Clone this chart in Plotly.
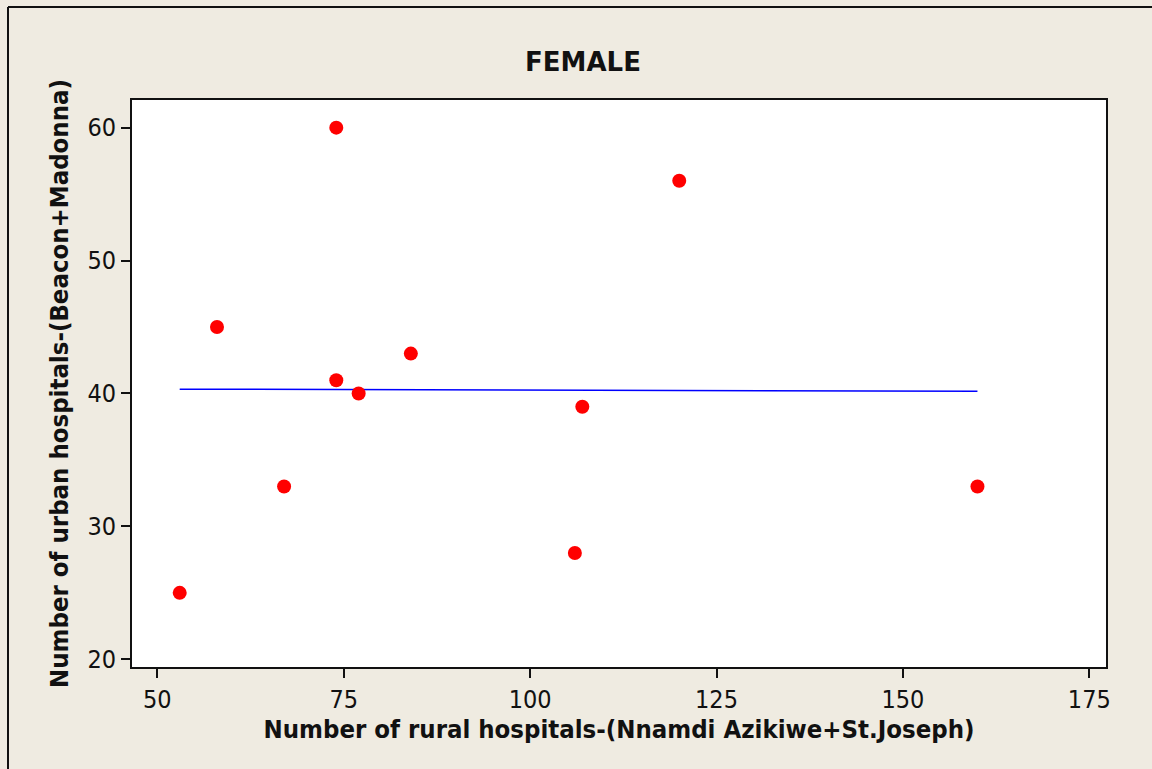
import numpy as np
import plotly.graph_objects as go

# Data
rural = [53, 58, 67, 74, 74, 77, 84, 106, 107, 120, 160]
urban = [25, 45, 33, 60, 41, 40, 43, 28, 39, 56, 33]
x_ticks = [50, 75, 100, 125, 150, 175]
y_ticks = [20, 30, 40, 50, 60]

title_text = "FEMALE"
x_title = "Number of rural hospitals-(Nnamdi Azikiwe+St.Joseph)"
y_title = "Number of urban hospitals-(Beacon+Madonna)"

# Least-squares fit line computed from the data
slope, intercept = np.polyfit(rural, urban, 1)
fit_x = [min(rural), max(rural)]
fit_y = [slope * v + intercept for v in fit_x]

BG = "#EFEBE1"
FONT = "DejaVu Sans Condensed, DejaVu Sans, sans-serif"
TFONT = "DejaVu Sans, sans-serif"

fig = go.Figure()
fig.add_trace(go.Scatter(x=fit_x, y=fit_y, mode="lines",
                         line=dict(color="#0000FF", width=1.5),
                         hoverinfo="skip", showlegend=False))
fig.add_trace(go.Scatter(x=rural, y=urban, mode="markers",
                         marker=dict(color="#FF0000", size=14, line=dict(width=0)),
                         showlegend=False))

axis_common = dict(showline=True, linecolor="#111111", linewidth=1.8, mirror=True,
                   ticks="outside", ticklen=9, tickwidth=1.5, tickcolor="#111111",
                   showgrid=False, zeroline=False,
                   tickfont=dict(family=FONT, size=25, color="#111111"))

fig.update_xaxes(range=[46.6, 177.24], tickvals=x_ticks,
                 title=dict(text=f"<b>{x_title}</b>", font=dict(family=FONT, size=25.5, color="#111111"),
                            standoff=0),
                 **axis_common)
fig.update_yaxes(range=[19.42, 62.08], tickvals=y_ticks,
                 title=dict(text=f"<b>{y_title}</b>", font=dict(family=FONT, size=25.5, color="#111111"),
                            standoff=12),
                 **axis_common)

# Outer frame (top and left edges visible)
fig.add_shape(type="line", xref="paper", yref="paper",
              x0=(8 - 132) / 974, x1=1.2, y0=(667 - 7) / 567, y1=(667 - 7) / 567,
              line=dict(color="#111111", width=2))
fig.add_shape(type="line", xref="paper", yref="paper",
              x0=(8 - 132) / 974, x1=(8 - 132) / 974, y0=(667 - 7) / 567, y1=-0.3,
              line=dict(color="#111111", width=2))

fig.update_layout(
    width=1152, height=769,
    margin=dict(l=132, r=46, t=100, b=102),
    paper_bgcolor=BG, plot_bgcolor="white",
    title=dict(text=f"<b>{title_text}</b>", x=583 / 1152, xanchor="center",
               y=1 - 62 / 769, yanchor="middle", yref="container",
               font=dict(family=TFONT, size=26, color="#111111")),
    font=dict(family=FONT, color="#111111"),
)

fig.write_html("out.html", config={"displayModeBar": False},
               post_script="document.body.style.margin='0';document.body.style.overflow='hidden';")
